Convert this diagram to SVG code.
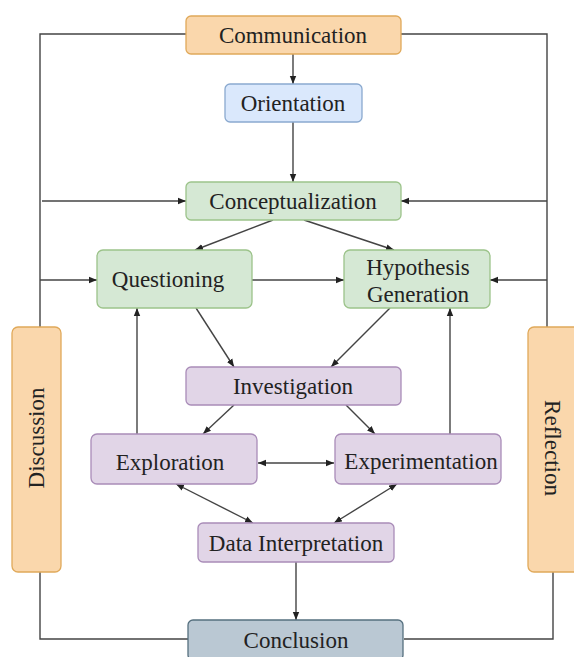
<svg xmlns="http://www.w3.org/2000/svg" width="574" height="657" viewBox="0 0 574 657">
<style>
.t{font-family:'Liberation Serif','Times New Roman','DejaVu Serif',serif;font-size:23px;fill:#222;text-anchor:middle;dominant-baseline:central}
.or{fill:#fad7ac;stroke:#e0a95a;stroke-width:1.3}
.bl{fill:#dae8fc;stroke:#8aa9cf;stroke-width:1.3}
.gr{fill:#d5e8d4;stroke:#9cc38a;stroke-width:1.3}
.pu{fill:#e1d5e7;stroke:#a98cb8;stroke-width:1.3}
.gy{fill:#bac8d3;stroke:#56707f;stroke-width:1.3}
.c path{fill:none;stroke:#444;stroke-width:1.4}
.a{marker-end:url(#ah)}
.d{marker-end:url(#ah);marker-start:url(#ah)}
</style>
<defs>
<marker id="ah" viewBox="0 0 10 10" refX="10" refY="5" markerWidth="8" markerHeight="8" markerUnits="userSpaceOnUse" orient="auto-start-reverse">
<path d="M0,1 L10,5 L0,9 Z" fill="#222"/>
</marker>
</defs>
<rect width="574" height="657" fill="#ffffff"/>
<g class="c" id="connectors">
<path d="M186,34 H40 V327"/>
<path d="M401,34 H547 V327"/>
<path d="M40,572 V639 H189"/>
<path d="M553,572 V639 H404"/>
<path class="a" d="M293,54 V84"/>
<path class="a" d="M293,122 V182"/>
<path class="a" d="M42,201 H186"/>
<path class="a" d="M547,201 H401"/>
<path class="a" d="M273,220 L195,250"/>
<path class="a" d="M304,220 L394,250"/>
<path class="a" d="M40,280 H97"/>
<path class="a" d="M252,280 H344"/>
<path class="a" d="M547,280 H490"/>
<path class="a" d="M196,308 L234,367"/>
<path class="a" d="M390,308 L331,367"/>
<path class="a" d="M137,434 V308"/>
<path class="a" d="M450,434 V308"/>
<path class="a" d="M234,405 L203,434"/>
<path class="a" d="M346,405 L375,434"/>
<path class="d" d="M258,463 H334"/>
<path class="d" d="M176,484 L253,523"/>
<path class="d" d="M397,484 L334,523"/>
<path class="a" d="M296,562 V620"/>
</g>
<g id="communication"><rect class="or" x="186" y="16" width="215" height="38" rx="5"/><text class="t" x="293" y="35" font-family="Liberation Serif, serif">Communication</text></g>
<g id="orientation"><rect class="bl" x="225" y="84" width="137" height="38" rx="5"/><text class="t" x="293" y="103" font-family="Liberation Serif, serif">Orientation</text></g>
<g id="conceptualization"><rect class="gr" x="186" y="182" width="215" height="38" rx="5"/><text class="t" x="293" y="201" font-family="Liberation Serif, serif">Conceptualization</text></g>
<g id="questioning"><rect class="gr" x="97" y="250" width="155" height="58" rx="6"/><text class="t" x="168" y="279" font-family="Liberation Serif, serif">Questioning</text></g>
<g id="hypothesis"><rect class="gr" x="344" y="250" width="146" height="58" rx="6"/><text class="t" x="418" y="267" font-family="Liberation Serif, serif">Hypothesis</text><text class="t" x="418" y="294" font-family="Liberation Serif, serif">Generation</text></g>
<g id="investigation"><rect class="pu" x="186" y="367" width="215" height="38" rx="5"/><text class="t" x="293" y="386" font-family="Liberation Serif, serif">Investigation</text></g>
<g id="exploration"><rect class="pu" x="91" y="434" width="166" height="50" rx="6"/><text class="t" x="170" y="462" font-family="Liberation Serif, serif">Exploration</text></g>
<g id="experimentation"><rect class="pu" x="335" y="434" width="166" height="50" rx="6"/><text class="t" x="421" y="461" font-family="Liberation Serif, serif">Experimentation</text></g>
<g id="datainterpretation"><rect class="pu" x="198" y="523" width="196" height="39" rx="5"/><text class="t" x="296" y="543" font-family="Liberation Serif, serif">Data Interpretation</text></g>
<g id="conclusion"><rect class="gy" x="188" y="620" width="215" height="40" rx="5"/><text class="t" x="296" y="640" font-family="Liberation Serif, serif">Conclusion</text></g>
<g id="discussion"><rect class="or" x="12" y="327" width="49" height="245" rx="6"/><text class="t" transform="translate(36,438) rotate(-90)" x="0" y="0" font-family="Liberation Serif, serif">Discussion</text></g>
<g id="reflection"><rect class="or" x="528" y="327" width="52" height="245" rx="6"/><text class="t" transform="translate(552,448) rotate(90)" x="0" y="0" font-family="Liberation Serif, serif">Reflection</text></g>
</svg>
